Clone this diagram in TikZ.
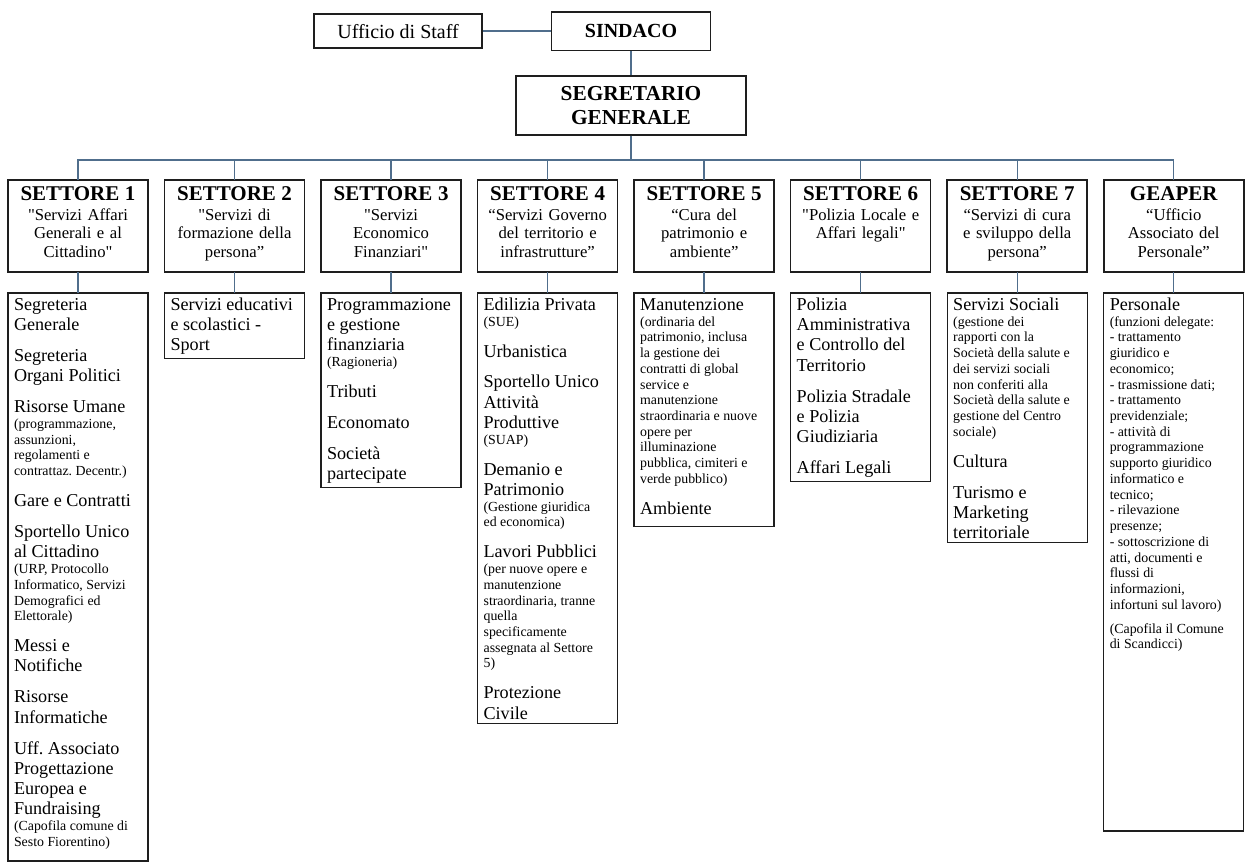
\documentclass[tikz,border=0pt]{standalone}
\usepackage{fontspec}
\setmainfont{Liberation Serif}
\usepackage{tikz}
\usetikzlibrary{positioning}
\definecolor{linkblue}{RGB}{80,110,140}
\definecolor{boxline}{RGB}{30,30,30}
\frenchspacing
\newcommand{\sq}{\textquotedbl}
\newcommand{\secttitle}[1]{{\bfseries\fontsize{15.75}{17}\selectfont #1}\\[2pt]}
\newcommand{\subnote}[1]{\par{\fontsize{10.4}{11.8}\selectfont #1\par}}
\newcommand{\blockgap}{\par\vspace{8pt}}

\begin{document}
\begin{tikzpicture}[
    x=0.75pt,y=-0.75pt,
    topbox/.style={rectangle,draw=boxline,line width=1.2pt,align=center,inner sep=0pt,font=\fontsize{15}{17}\selectfont},
    sector/.style={rectangle,draw=boxline,line width=1.2pt,outer sep=0pt,anchor=north,text width=99pt,align=center,inner xsep=3pt,inner ysep=4pt,text height=11pt,text depth=50pt,font=\fontsize{12.5}{13.6}\selectfont},
    office/.style={rectangle,draw=boxline,line width=1pt,outer sep=0pt,anchor=north,text width=96pt,align=flush left,inner xsep=4.5pt,inner ysep=3pt,text height=10pt,font=\fontsize{13.6}{15.2}\selectfont},
    link/.style={draw=linkblue,line width=1pt}
]
\path[use as bounding box,fill=white] (0,0) rectangle (1248,863);

% Top
\node[topbox,anchor=north,minimum width=119pt,minimum height=29pt,font=\bfseries\fontsize{15}{17}\selectfont] (sindaco) at (631,11) {SINDACO};
\node[topbox,left=51pt of sindaco,minimum width=126pt,minimum height=25.5pt] (staff) {Ufficio di Staff};
\node[topbox,below=18pt of sindaco,minimum width=172.5pt,minimum height=44.25pt,font=\bfseries\fontsize{16}{17.5}\selectfont] (segr) {SEGRETARIO\\GENERALE};

% Sectors
\node[sector] (s1) at (78,180) {\secttitle{SETTORE 1}\sq Servizi Affari\\Generali e al\\Cittadino\sq};
\node[sector,right=12.4pt of s1] (s2) {\secttitle{SETTORE 2}\sq Servizi di\\formazione della\\persona”};
\node[sector,right=12.4pt of s2] (s3) {\secttitle{SETTORE 3}\sq Servizi\\Economico\\Finanziari\sq};
\node[sector,right=12.4pt of s3] (s4) {\secttitle{SETTORE 4}“Servizi Governo\\del territorio e\\infrastrutture”};
\node[sector,right=12.4pt of s4] (s5) {\secttitle{SETTORE 5}“Cura del\\patrimonio e\\ambiente”};
\node[sector,right=12.4pt of s5] (s6) {\secttitle{SETTORE 6}\sq Polizia Locale e\\Affari legali\sq};
\node[sector,right=12.4pt of s6] (s7) {\secttitle{SETTORE 7}“Servizi di cura\\e sviluppo della\\persona”};
\node[sector,right=12.4pt of s7] (gp) {\secttitle{GEAPER}“Ufficio\\Associato del\\Personale”};

% Offices
\node[office,below=15.75pt of s1,text depth=410pt] (u1) {Segreteria\\Generale\blockgap
Segreteria\\Organi Politici\blockgap
Risorse Umane\subnote{(programmazione,\\assunzioni,\\regolamenti e\\contrattaz. Decentr.)}\blockgap
Gare e Contratti\blockgap
Sportello Unico\\al Cittadino\subnote{(URP, Protocollo\\Informatico, Servizi\\Demografici ed\\Elettorale)}\blockgap
Messi e\\Notifiche\blockgap
Risorse\\Informatiche\blockgap
Uff. Associato\\Progettazione\\Europea e\\Fundraising\subnote{(Capofila comune di\\Sesto Fiorentino)}};
\node[office,below=15.75pt of s2] (u2) {Servizi educativi\\e scolastici -\\Sport};
\node[office,below=15.75pt of s3] (u3) {Programmazione\\e gestione\\finanziaria\subnote{(Ragioneria)}\blockgap
Tributi\blockgap
Economato\blockgap
Società\\partecipate};
\node[office,below=15.75pt of s4] (u4) {Edilizia Privata\subnote{(SUE)}\blockgap
Urbanistica\blockgap
Sportello Unico\\Attività\\Produttive\subnote{(SUAP)}\blockgap
Demanio e\\Patrimonio\subnote{(Gestione giuridica\\ed economica)}\blockgap
Lavori Pubblici\subnote{(per nuove opere e\\manutenzione\\straordinaria, tranne\\quella\\specificamente\\assegnata al Settore\\5)}\blockgap
Protezione\\Civile};
\node[office,below=15.75pt of s5] (u5) {Manutenzione\subnote{(ordinaria del\\patrimonio, inclusa\\la gestione dei\\contratti di global\\service e\\manutenzione\\straordinaria e nuove\\opere per\\illuminazione\\pubblica, cimiteri e\\verde pubblico)}\blockgap
Ambiente\vspace{6pt}};
\node[office,below=15.75pt of s6] (u6) {Polizia\\Amministrativa\\e Controllo del\\Territorio\blockgap
Polizia Stradale\\e Polizia\\Giudiziaria\blockgap
Affari Legali};
\node[office,below=15.75pt of s7] (u7) {Servizi Sociali\subnote{(gestione dei\\rapporti con la\\Società della salute e\\dei servizi sociali\\non conferiti alla\\Società della salute e\\gestione del Centro\\sociale)}\blockgap
Cultura\blockgap
Turismo e\\Marketing\\territoriale};
\node[office,below=15.75pt of gp,text depth=387.5pt] (ugp) {Personale\subnote{(funzioni delegate:\\- trattamento\\giuridico e\\economico;\\- trasmissione dati;\\- trattamento\\previdenziale;\\- attività di\\programmazione\\supporto giuridico\\informatico e\\tecnico;\\- rilevazione\\presenze;\\- sottoscrizione di\\atti, documenti e\\flussi di\\informazioni,\\infortuni sul lavoro)}\vspace{6pt}
\subnote{(Capofila il Comune\\di Scandicci)}};

% Links
\draw[link] (staff) -- (sindaco);
\draw[link] (sindaco) -- (segr);
\draw[link] (segr.south) -- ++(0,24) -| (s1.north);
\draw[link] (segr.south) -- ++(0,24) -| (s2.north);
\draw[link] (segr.south) -- ++(0,24) -| (s3.north);
\draw[link] (segr.south) -- ++(0,24) -| (s4.north);
\draw[link] (segr.south) -- ++(0,24) -| (s5.north);
\draw[link] (segr.south) -- ++(0,24) -| (s6.north);
\draw[link] (segr.south) -- ++(0,24) -| (s7.north);
\draw[link] (segr.south) -- ++(0,24) -| (gp.north);
\draw[link] (s1) -- (u1);
\draw[link] (s2) -- (u2);
\draw[link] (s3) -- (u3);
\draw[link] (s4) -- (u4);
\draw[link] (s5) -- (u5);
\draw[link] (s6) -- (u6);
\draw[link] (s7) -- (u7);
\draw[link] (gp) -- (ugp);

\end{tikzpicture}
\end{document}
